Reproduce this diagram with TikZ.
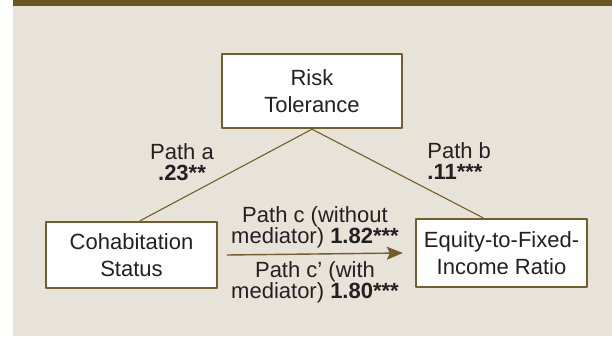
\documentclass[tikz,border=0pt]{standalone}
\usepackage{fontspec}
\setmainfont{Liberation Sans}
\usepackage{tikz}
\usetikzlibrary{calc}
\usetikzlibrary{arrows.meta}
\definecolor{bgbeige}{rgb}{0.91,0.89,0.85}
\definecolor{barbrown}{rgb}{0.42,0.34,0.14}
\definecolor{boxbrown}{rgb}{0.45,0.37,0.16}
\definecolor{txtgray}{rgb}{0.14,0.12,0.13}
\tikzstyle{every node}=[font=\fontsize{11}{13.5}\selectfont, text=txtgray]
\tikzstyle{varbox}=[draw=boxbrown, line width=1.2pt, fill=white, align=center, inner sep=0pt]
\tikzstyle{pathlbl}=[font=\fontsize{11}{10.5}\selectfont, align=center, inner sep=0pt]
\tikzstyle{link}=[line width=0.55pt, color=boxbrown]

\begin{document}
\begin{tikzpicture}[line cap=round,line join=round,>={Stealth[length=8pt,width=6.5pt,inset=1.5pt]},x=0.5pt,y=0.5pt]
            \useasboundingbox (0,0) rectangle (612,337);
            \fill[color=bgbeige] (13,1) rectangle (612,331);
            \fill[color=barbrown] (13,331) rectangle (612,337);
            % the three variables
            \node[varbox, minimum width=90pt, minimum height=37pt] (risk) at (312,246) {Risk\\Tolerance};
            \node[varbox, minimum width=85.5pt, minimum height=33pt] (cohab) at (131.5,82) {Cohabitation\\Status};
            \node[varbox, minimum width=85.5pt, minimum height=34pt] (equity) at (501.5,84) {Equity-to-Fixed-\\Income Ratio};
            % paths
            \draw [link] (risk.south) -- ([xshift=4.25pt]cohab.north);
            \draw [link] (risk.south) -- ([xshift=-9.25pt]equity.north);
            \draw [->,link,line width=0.7pt] ([xshift=4.5pt]cohab.east) -- ([xshift=-6pt]equity.west)
            node[pathlbl, midway, above=2.5pt] (pathc) {Path c (without\\mediator) \textbf{1.82***}}
            node[pathlbl, midway, below=3.5pt] (pathcp) {Path c’ (with\\mediator) \textbf{1.80***}};
            \node[pathlbl] (patha) at (182,175) {Path a\\\textbf{.23**}};
            \node[pathlbl, anchor=west, align=left] (pathb) at (427,176) {Path b\\\textbf{.11***}};
            \end{tikzpicture}
\end{document}
